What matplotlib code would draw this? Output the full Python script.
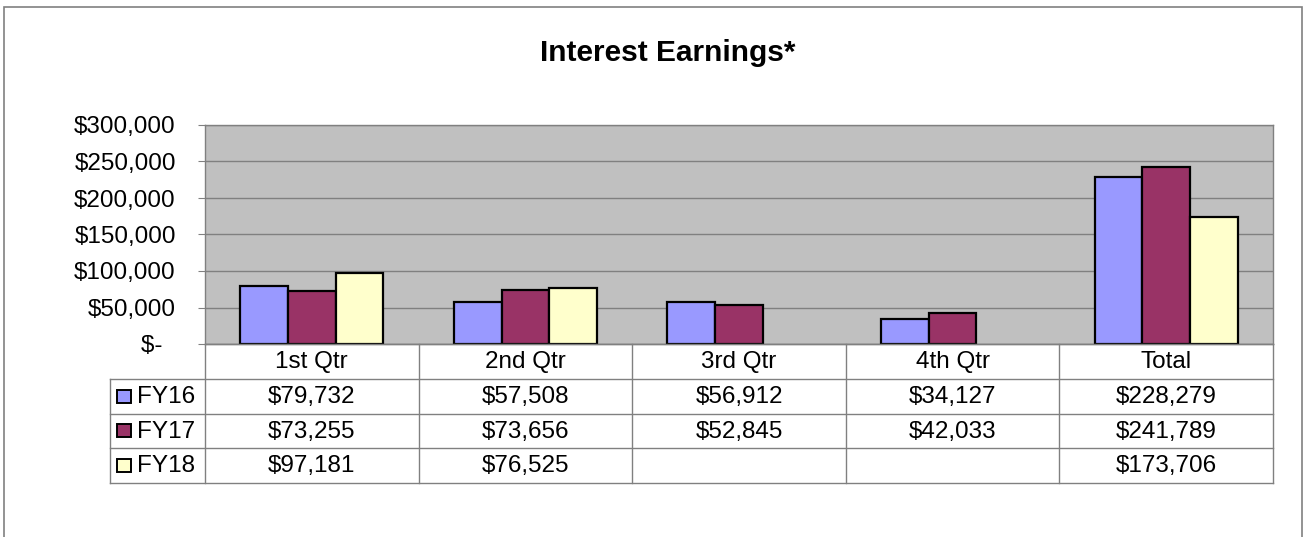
import matplotlib
matplotlib.use('Agg')
import matplotlib.pyplot as plt
from matplotlib.patches import Rectangle
import numpy as np

CATEGORIES = ['1st Qtr', '2nd Qtr', '3rd Qtr', '4th Qtr', 'Total']
SERIES = ['FY16', 'FY17', 'FY18']
FY16 = [79732, 57508, 56912, 34127, 228279]
FY17 = [73255, 73656, 52845, 42033, 241789]
FY18 = [97181, 76525, None, None, 173706]
Y_TICKS = [0, 50000, 100000, 150000, 200000, 250000, 300000]

COLORS = ['#9999FF', '#993366', '#FFFFCC']
W, H = 1306, 537
FONT = 'Liberation Sans'
FS = 17.5


def money(v):
    if v is None:
        return ''
    if v == 0:
        return '$-  '
    return '${:,.0f}'.format(v)


def fig_rect(x0, y0, x1, y1):
    # pixel box (top-left origin) -> figure fraction [l, b, w, h]
    return [x0 / W, 1 - y1 / H, (x1 - x0) / W, (y1 - y0) / H]


def main():
    plt.rcParams['font.family'] = FONT
    fig = plt.figure(figsize=(W / 100, H / 100), dpi=100)

    # outer chart border
    fig.add_artist(Rectangle((4 / W, -0.2), (1302 - 4) / W, 1.2 - 7 / H,
                             transform=fig.transFigure, fill=False,
                             edgecolor='#808080', lw=1.2))

    fig.text(668 / W, 1 - 53 / H, 'Interest Earnings*', ha='center', va='center',
             fontsize=21.5, fontweight='bold')

    ax = fig.add_axes(fig_rect(205, 125, 1273, 344))
    ax.set_facecolor('#C0C0C0')
    x = np.arange(len(CATEGORIES)) + 0.5
    bw = 0.2233
    all_data = [FY16, FY17, FY18]
    for i, data in enumerate(all_data):
        vals = [np.nan if v is None else v for v in data]
        ax.bar(x + (i - 1) * bw, vals, bw, color=COLORS[i], edgecolor='black',
               linewidth=1.6, zorder=3)

    ax.set_xlim(0, len(CATEGORIES))
    ax.set_ylim(0, 300000)
    ax.set_yticks(Y_TICKS)
    ax.set_yticklabels([money(v) for v in Y_TICKS], fontsize=FS)
    ax.set_xticks([])
    ax.grid(axis='y', color='#808080', lw=1.0, zorder=1)
    ax.tick_params(axis='y', direction='out', length=5, color='#808080', pad=16)
    for s in ax.spines.values():
        s.set_color('#808080')
        s.set_linewidth(1.0)

    # data table below the plot
    tab = fig.add_axes(fig_rect(110, 344, 1273, 483))
    leg_w = 95 / 213.6
    tab.set_xlim(-leg_w, len(CATEGORIES))
    tab.set_ylim(4, 0)
    tab.axis('off')
    lc = '#808080'
    lw = 1.0
    n = len(CATEGORIES)
    # horizontal lines
    for r in [1, 2, 3, 4]:
        tab.plot([-leg_w, n], [r, r], color=lc, lw=lw, clip_on=False)
    tab.plot([0, n], [0, 0], color=lc, lw=lw, clip_on=False)
    # vertical lines
    for c in range(n + 1):
        tab.plot([c, c], [0, 4], color=lc, lw=lw, clip_on=False)
    tab.plot([-leg_w, -leg_w], [1, 4], color=lc, lw=lw, clip_on=False)

    for c, cat in enumerate(CATEGORIES):
        tab.text(c + 0.5, 0.52, cat, ha='center', va='center', fontsize=FS)
    for r, data in enumerate(all_data):
        for c, v in enumerate(data):
            tab.text(c + 0.5, r + 1.52, money(v), ha='center', va='center', fontsize=FS)
        # legend key square
        sq = 14 / 213.6
        tab.add_patch(Rectangle((-leg_w + 7 / 213.6, r + 1.5 - 0.19), sq, 0.38,
                                facecolor=COLORS[r], edgecolor='black', lw=1.4,
                                clip_on=False))
        tab.text(-leg_w + 27 / 213.6, r + 1.52, SERIES[r], ha='left', va='center',
                 fontsize=FS)

    fig.savefig('out.png', dpi=100)


if __name__ == '__main__':
    main()
